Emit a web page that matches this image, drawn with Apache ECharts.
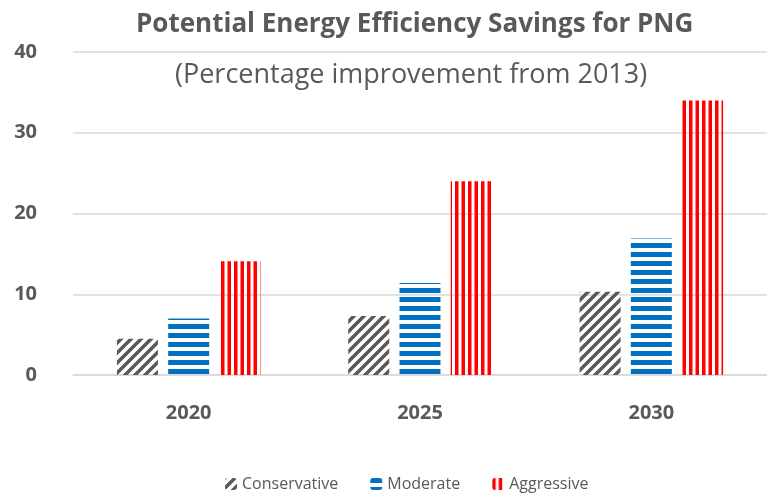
<!DOCTYPE html>
<html>
<head>
<meta charset="utf-8">
<script src="https://cdn.jsdelivr.net/npm/echarts@6/dist/echarts.min.js"></script>
<style>
  html, body { margin: 0; padding: 0; background: #fff; }
  #chart { width: 767px; height: 496px; }
</style>
</head>
<body>
<div id="chart"></div>
<script>
var years = ["2020", "2025", "2030"];
var conservative = [4.5, 7.3, 10.3];
var moderate = [7.0, 11.4, 16.9];
var aggressive = [14.1, 24.0, 34.0];
var yTicks = [0, 10, 20, 30, 40];

var textGray = "#595959";

// stripe fills drawn on small canvases, repeated inside the bars
function stripePattern(kind, color) {
  var c = document.createElement("canvas");
  var ctx;
  if (kind === "horizontal") {
    c.width = 4; c.height = 9;
    ctx = c.getContext("2d");
    ctx.fillStyle = color;
    ctx.fillRect(0, 0, 4, 5);
  } else if (kind === "vertical") {
    c.width = 13; c.height = 4;
    ctx = c.getContext("2d");
    ctx.fillStyle = color;
    ctx.fillRect(0, 0, 3.5, 4);
    ctx.fillRect(6.5, 0, 3.5, 4);
  } else {
    c.width = 10; c.height = 10;
    ctx = c.getContext("2d");
    ctx.strokeStyle = color;
    ctx.lineWidth = 3.5;
    ctx.beginPath();
    for (var k = -1; k <= 1; k++) {
      ctx.moveTo(k * 10 - 2, 12);
      ctx.lineTo(k * 10 + 12, -2);
    }
    ctx.stroke();
  }
  return { image: c, repeat: "repeat" };
}

var myChart = echarts.init(document.getElementById("chart"), null, { renderer: "canvas" });

var option = {
  animation: false,
  title: [
    {
      text: "Potential Energy Efficiency Savings for PNG",
      left: 131,
      top: 7,
      textStyle: { fontFamily: "Open Sans", fontWeight: "bold", fontSize: 26, color: textGray }
    },
    {
      text: "(Percentage improvement from 2013)",
      left: 170,
      top: 57,
      textStyle: { fontFamily: "Open Sans", fontWeight: "normal", fontSize: 27, color: textGray }
    }
  ],
  legend: {
    left: 220,
    top: 471,
    itemWidth: 12,
    itemHeight: 12,
    itemGap: 32,
    textStyle: { fontFamily: "Open Sans", fontSize: 16, color: textGray },
    data: ["Conservative", "Moderate", "Aggressive"]
  },
  grid: {
    left: 73,
    right: 0,
    top: 52,
    height: 323,
    containLabel: false
  },
  xAxis: {
    type: "category",
    data: years,
    axisTick: { show: false },
    axisLine: { show: true, lineStyle: { color: "#D9D9D9", width: 1.5 } },
    axisLabel: {
      margin: 28,
      fontFamily: "Open Sans",
      fontWeight: "bold",
      fontSize: 20,
      color: textGray
    }
  },
  yAxis: {
    type: "value",
    min: yTicks[0],
    max: yTicks[yTicks.length - 1],
    interval: yTicks[1] - yTicks[0],
    axisLine: { show: false },
    axisTick: { show: false },
    splitLine: { lineStyle: { color: "#D9D9D9", width: 1.5 } },
    axisLabel: {
      margin: 36,
      fontFamily: "Open Sans",
      fontWeight: "bold",
      fontSize: 20,
      color: textGray
    }
  },
  series: [
    {
      name: "Conservative",
      type: "bar",
      data: conservative,
      barWidth: 41,
      barGap: "25%",
      itemStyle: { color: stripePattern("diagonal", "#595959") }
    },
    {
      name: "Moderate",
      type: "bar",
      data: moderate,
      barWidth: 41,
      barGap: "25%",
      itemStyle: { color: stripePattern("horizontal", "#0070C0") }
    },
    {
      name: "Aggressive",
      type: "bar",
      data: aggressive,
      barWidth: 41,
      barGap: "25%",
      itemStyle: { color: stripePattern("vertical", "#FF0000") }
    }
  ]
};

myChart.setOption(option);
</script>
</body>
</html>
